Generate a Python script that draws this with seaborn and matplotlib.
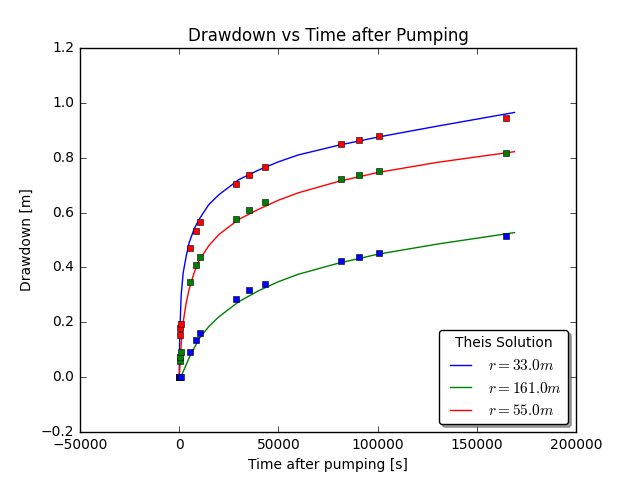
import matplotlib
matplotlib.use("Agg")
import matplotlib.pyplot as plt
import seaborn as sns

plt.style.use("classic")
plt.rcParams.update({"font.size": 10, "axes.titlesize": 12, "axes.labelsize": 10,
                     "xtick.labelsize": 10, "ytick.labelsize": 10})

# observation times [s]
t_obs = [0, 300, 600, 900, 5400, 8300, 10300, 28400, 35300, 43100, 81400, 90700, 100500, 164700]
# observed drawdowns [m]
s_33 = [0.0, 0.153, 0.179, 0.193, 0.47, 0.533, 0.566, 0.704, 0.737, 0.766, 0.85, 0.865, 0.88, 0.945]
s_161 = [0.0, 0.0, 0.0, 0.0, 0.09, 0.135, 0.16, 0.285, 0.317, 0.34, 0.423, 0.438, 0.453, 0.515]
s_55 = [0.0, 0.06, 0.075, 0.09, 0.347, 0.409, 0.438, 0.577, 0.61, 0.639, 0.723, 0.737, 0.752, 0.817]

# Theis curves
t_fit = [0, 200, 500, 1000, 2000, 3500, 5000, 7500, 10000, 15000, 20000, 30000, 40000,
         50000, 60000, 80000, 100000, 130000, 169000]
fit_33 = [0.0, 0.12, 0.2, 0.3, 0.38, 0.44, 0.49, 0.54, 0.575, 0.63, 0.665, 0.72, 0.755,
          0.785, 0.81, 0.845, 0.875, 0.915, 0.965]
fit_161 = [0.0, 0.0, 0.0, 0.005, 0.02, 0.045, 0.07, 0.105, 0.14, 0.185, 0.22, 0.275, 0.315,
           0.348, 0.375, 0.415, 0.448, 0.485, 0.527]
fit_55 = [0.0, 0.02, 0.06, 0.12, 0.2, 0.27, 0.32, 0.38, 0.425, 0.48, 0.52, 0.575, 0.612,
          0.645, 0.672, 0.713, 0.746, 0.783, 0.822]

fig, ax = plt.subplots(figsize=(6.4, 4.8), dpi=100)
sns.lineplot(x=t_fit, y=fit_33, color="b", label=r"$r=33.0m$", ax=ax)
sns.lineplot(x=t_fit, y=fit_161, color="g", label=r"$r=161.0m$", ax=ax)
sns.lineplot(x=t_fit, y=fit_55, color="r", label=r"$r=55.0m$", ax=ax)

sns.scatterplot(x=t_obs, y=s_33, color="r", marker="s", s=25, edgecolor="k", ax=ax, zorder=3)
sns.scatterplot(x=t_obs, y=s_55, color="g", marker="s", s=25, edgecolor="k", ax=ax, zorder=3)
sns.scatterplot(x=t_obs, y=s_161, color="b", marker="s", s=25, edgecolor="k", ax=ax, zorder=3)

ax.set_xlim(-50000, 200000)
ax.set_ylim(-0.2, 1.2)
ax.set_title("Drawdown vs Time after Pumping")
ax.set_xlabel("Time after pumping [s]")
ax.set_ylabel("Drawdown [m]")
leg = ax.legend(title="Theis Solution", loc="lower right", fancybox=True, shadow=True, fontsize=11)
leg.get_title().set_fontsize(10)
fig.savefig("out.png", dpi=100)
